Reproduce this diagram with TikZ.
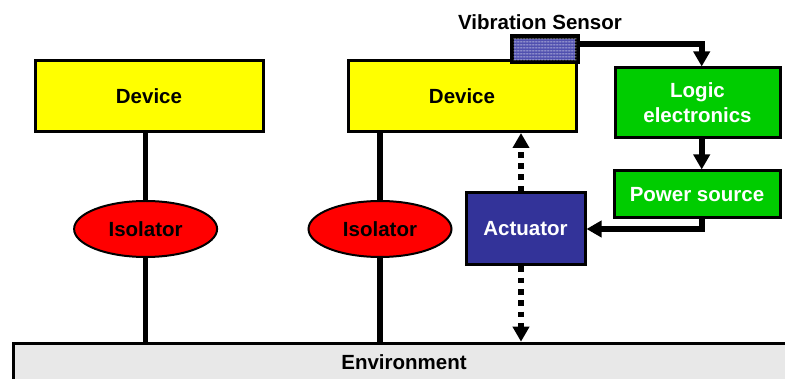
\documentclass[tikz,border=0pt]{standalone}
\usepackage{fontspec}
\setmainfont{Liberation Sans}
\usetikzlibrary{arrows.meta,patterns.meta,shapes.geometric,calc}
\definecolor{devyellow}{RGB}{255,255,0}
\definecolor{ctrlgreen}{RGB}{0,204,0}
\definecolor{actblue}{RGB}{51,51,153}
\definecolor{isored}{RGB}{255,0,0}
\definecolor{envgray}{RGB}{232,232,232}
\definecolor{sensblue}{RGB}{80,80,175}
\tikzdeclarepattern{
  name=sensordots,
  type=colored,
  bottom left={(0pt,0pt)},
  top right={(3pt,3pt)},
  tile size={(3pt,3pt)},
  code={\fill[white!80!sensblue] (1.5pt,1.5pt) circle (0.75pt);}
}
\tikzset{
  x=1pt, y=-1pt,
  every node/.style={font=\fontsize{20.5}{25}\selectfont\bfseries, inner sep=0pt},
  box/.style={draw=black, line width=3pt, rectangle},
  device/.style={box, fill=devyellow, minimum width=228pt, minimum height=71pt},
  ctrl/.style={box, fill=ctrlgreen, text=white, align=center},
  isolator/.style={ellipse, draw=black, line width=2pt, fill=isored,
    minimum width=143pt, minimum height=56pt},
  rod/.style={line width=5.3pt},
  wire/.style={line width=6pt},
  tip/.style={-{Triangle[width=16pt,length=15pt]}},
  motion/.style={line width=5.7pt, dash pattern=on 5.7pt off 5.6pt, tip},
}
\begin{document}
\begin{tikzpicture}
\useasboundingbox (0,0) rectangle (785,379);
\clip (0,0) rectangle (785,379);

% ground
\node[box, fill=envgray, minimum width=780pt, minimum height=50pt, anchor=north west]
  (env) at (12,341.7) {};
\node (envtxt) at (404,362) {Environment};

% isolated devices
\node[device] (dev1) at (149,96) {Device};
\node[device] (dev2) at (462,96) {Device};

% sensor and control chain
\node[box, fill=sensblue, minimum width=64pt, minimum height=24pt] (sens) at (544.7,49.2) {};
\fill[pattern=sensordots] (sens.south west) rectangle (sens.north east);
\draw[line width=3pt] (sens.south west) rectangle (sens.north east);
\node (senslabel) at (540,22) {Vibration Sensor};
\node[ctrl, minimum width=165pt, minimum height=70pt] (logic) at (697.5,103) {Logic\\electronics};
\node[ctrl, minimum width=166pt, minimum height=47pt] (power) at (697,194.5) {Power source};
\node[box, fill=actblue, text=white, minimum width=119pt, minimum height=72pt] (act) at (525.5,229) {Actuator};

% isolator mounts: rods first, isolators on top
\coordinate (c1) at (145.6,229);
\coordinate (c2) at (380,229);
\draw[rod] (dev1.south -| c1) -- (env.north -| c1);
\draw[rod] (dev2.south -| c2) -- (env.north -| c2);
\node[isolator] (iso1) at (c1) {Isolator};
\node[isolator] (iso2) at (c2) {Isolator};

% signal path
\coordinate (tap) at (701.7,44.3);
\coordinate (bend) at (702,229);
\draw[wire, tip] (sens.east |- tap) -- (tap) -- (tap |- logic.north);
\draw[wire, tip] (logic.south -| tap) -- (power.north -| tap);
\draw[wire, tip] (power.south -| bend) -- (bend) -- (act.east);

% actuator forces
\coordinate (ax) at (521,0);
\draw[motion] (act.north -| ax) -- (dev2.south -| ax);
\draw[motion] (act.south -| ax) -- (env.north -| ax);
\end{tikzpicture}
\end{document}
